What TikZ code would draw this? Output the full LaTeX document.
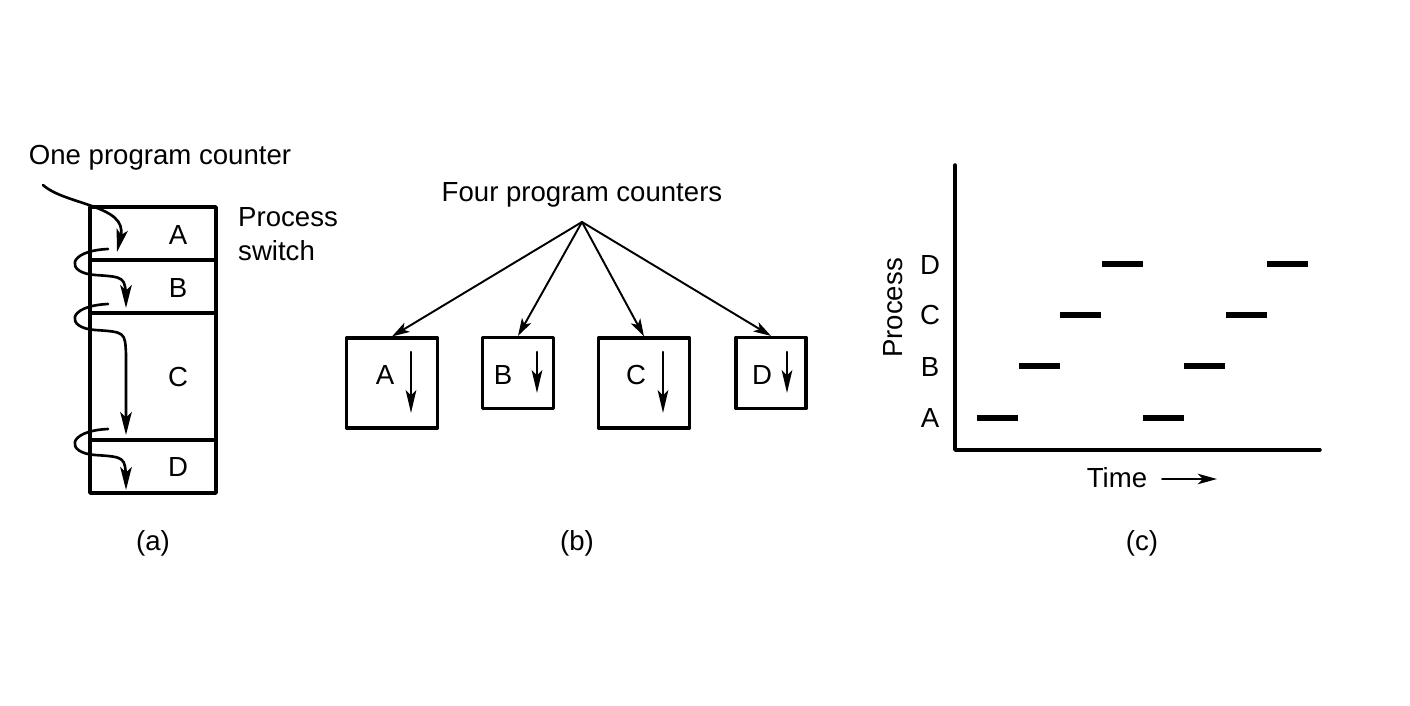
\documentclass[tikz,border=0pt]{standalone}
\usepackage{fontspec}
\setmainfont{Liberation Sans}
\usetikzlibrary{arrows.meta}

\tikzset{
  tip/.style={-{Stealth[length=13pt,width=6.5pt,inset=3pt]}},
  box/.style={draw,line width=1.8pt,inner sep=0pt},
}

\begin{document}
\begin{tikzpicture}[x=0.02cm,y=-0.02cm,line join=round,line cap=round,font=\fontsize{15.7}{19}\selectfont]
	\useasboundingbox (0,0) rectangle (1410,706);
	% (a)
	\draw[line width=2pt] (90,207) rectangle (216,493);
	\draw[line width=2pt] (90,260)--(216,260) (90,313)--(216,313) (90,440)--(216,440);
	\foreach \i/\y in {A/235,B/288,C/377,D/467}{\node (a\i) at (178,\y) {\i};}
	\node (one) at (160,158) {One program counter};
	\node[anchor=west,align=left] (switch) at (232,234) {Process\\switch};
	\coordinate (s0) at (43,185);
	\coordinate (e0) at (117,252);
	\draw[tip,line width=1.5pt] (s0) .. controls (65,205) and (128,205) .. (e0);
	\foreach \s/\e in {249/308,304/435,429/490}{
		\draw[tip,line width=1.5pt] (108,\s) .. controls (66,\s+2) and (66,\s+24) .. (95,\s+26) .. controls (125,\s+28) .. (126,\s+50) -- (126,\e);}
	\node (capa) at (153,543) {(a)};
	% (b)
	\node (four) at (582,195) {Four program counters};
	\coordinate (pc) at (582,222);
	\node[box,minimum width=1.82cm,minimum height=1.8cm] (bA) at (392,383) {};
	\node[box,minimum width=1.42cm,minimum height=1.42cm] (bB) at (518,373) {};
	\node[box,minimum width=1.82cm,minimum height=1.8cm] (bC) at (644,383) {};
	\node[box,minimum width=1.4cm,minimum height=1.42cm] (bD) at (771,373) {};
	\foreach \i in {A,B,C,D}{\draw[-{Stealth[length=10pt,width=6pt,inset=2.5pt]},line width=1.1pt] (pc)--(b\i.north);}
	\foreach \i/\x/\ax/\e in {A/385/411/413,B/503/537/393,C/636/663/413,D/762/787/393}{
		\node (l\i) at (\x,375) {\i};
		\draw[-{Stealth[length=13pt,width=6pt,inset=3pt]},line width=1.5pt] (\ax,352)--(\ax,\e);}
	\node (capb) at (577,543) {(b)};
	% (c)
	\coordinate (O) at (955,450);
	\draw[line width=2pt] (955,165)--(O)--(1320,450);
	\foreach \i/\y in {A/418,B/367,C/315,D/265}{\node (p\i) at (930,\y) {\i};}
	\node[rotate=90] (proc) at (893,308) {Process};
	\foreach \x/\y in {977/418,1019/366,1060/315,1102/264,1143/418,1184/366,1226/315,1267/264}{
		\draw[line width=0.12cm,line cap=butt] (\x,\y)--(\x+41,\y);}
	\node (time) at (1117,478) {Time};
	\draw[-{Stealth[length=11pt,width=6pt,inset=3pt]},line width=1.1pt] (1162,479)--(1217,479);
	\node (capc) at (1142,543) {(c)};
\end{tikzpicture}
\end{document}
